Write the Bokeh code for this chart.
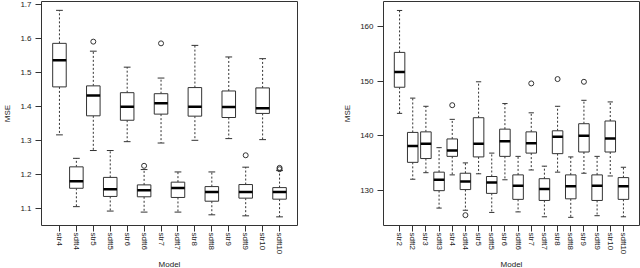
from bokeh.plotting import figure
from bokeh.layouts import row
from bokeh.models import Range1d, FixedTicker, PrintfTickFormatter, Title
from bokeh.embed import file_html
from bokeh.resources import INLINE

# ---------------- data ----------------
left_models = ["str4", "sdft4", "str5", "sdft5", "str6", "sdft6", "str7", "sdft7",
               "str8", "sdft8", "str9", "sdft9", "str10", "sdft10"]
left_lower = [1.317, 1.106, 1.271, 1.093, 1.297, 1.090, 1.293, 1.090, 1.301, 1.082, 1.306, 1.079, 1.303, 1.076]
left_q1 = [1.458, 1.160, 1.373, 1.136, 1.360, 1.135, 1.378, 1.133, 1.372, 1.122, 1.368, 1.131, 1.380, 1.128]
left_median = [1.536, 1.181, 1.433, 1.157, 1.400, 1.154, 1.410, 1.161, 1.400, 1.149, 1.399, 1.149, 1.395, 1.149]
left_q3 = [1.586, 1.223, 1.461, 1.192, 1.441, 1.170, 1.438, 1.178, 1.456, 1.165, 1.446, 1.171, 1.455, 1.162]
left_upper = [1.683, 1.248, 1.563, 1.271, 1.516, 1.215, 1.484, 1.208, 1.580, 1.208, 1.546, 1.222, 1.541, 1.212]
left_out_model = ["str5", "sdft6", "str7", "sdft9", "sdft10", "sdft10"]
left_out_value = [1.591, 1.226, 1.586, 1.257, 1.220, 1.216]
left_yticks = [1.1, 1.2, 1.3, 1.4, 1.5, 1.6, 1.7]

right_models = ["str2", "sdft2", "str3", "sdft3", "str4", "sdft4", "str5", "sdft5", "str6", "sdft6",
                "str7", "sdft7", "str8", "sdft8", "str9", "sdft9", "str10", "sdft10"]
right_lower = [144.1, 132.0, 133.2, 126.7, 132.8, 126.3, 133.0, 125.9, 131.9, 126.0,
               133.7, 125.1, 133.3, 125.0, 133.1, 125.3, 132.6, 125.1]
right_q1 = [148.9, 135.1, 135.8, 129.9, 136.2, 130.1, 136.1, 129.4, 136.2, 128.3,
            136.8, 128.1, 136.7, 128.4, 137.0, 128.1, 137.0, 128.3]
right_median = [151.7, 138.1, 138.5, 131.9, 137.3, 131.6, 138.5, 131.4, 139.0, 130.8,
                138.6, 130.2, 139.8, 130.7, 140.0, 130.8, 139.5, 130.7]
right_q3 = [155.3, 140.6, 140.7, 133.3, 139.4, 133.1, 143.3, 132.5, 141.2, 132.8,
            140.7, 132.1, 140.9, 132.8, 142.2, 132.8, 142.7, 132.3]
right_upper = [163.0, 146.9, 145.4, 137.8, 143.0, 135.0, 149.9, 136.8, 145.9, 136.2,
               144.2, 134.4, 145.4, 136.1, 146.5, 136.2, 146.2, 134.2]
right_out_model = ["str4", "sdft4", "str7", "str8", "str9"]
right_out_value = [145.6, 125.4, 149.6, 150.4, 149.9]
right_yticks = [130, 140, 150, 160]

FONT = "Liberation Sans"
INK = "#222222"
LINE = "#333333"


def boxplot(models, lower, q1, med, q3, upper, out_model, out_value,
            yrange, yticks, yfmt, width, border_left, border_right):
    n = len(models)
    pad = 0.04 * n
    p = figure(width=width, height=268, output_backend="svg", toolbar_location=None,
               x_range=Range1d(0.5 - pad, n + 0.5 + pad), y_range=Range1d(*yrange),
               min_border_left=border_left, min_border_right=border_right,
               min_border_top=1, min_border_bottom=0)
    p.background_fill_color = "white"
    p.border_fill_color = "white"
    p.outline_line_color = LINE
    p.outline_line_width = 1
    p.grid.visible = False

    xs = list(range(1, n + 1))
    bw = 0.8
    # whiskers
    p.segment(x0=xs, y0=q3, x1=xs, y1=upper, line_color=LINE, line_width=1, line_dash="2 2")
    p.segment(x0=xs, y0=q1, x1=xs, y1=lower, line_color=LINE, line_width=1, line_dash="2 2")
    # caps
    p.segment(x0=[x - bw / 4 for x in xs], y0=upper, x1=[x + bw / 4 for x in xs], y1=upper,
              line_color=LINE, line_width=1)
    p.segment(x0=[x - bw / 4 for x in xs], y0=lower, x1=[x + bw / 4 for x in xs], y1=lower,
              line_color=LINE, line_width=1)
    # boxes
    p.vbar(x=xs, width=bw, bottom=q1, top=q3, fill_color="white", line_color=LINE, line_width=1)
    # medians
    p.segment(x0=[x - bw / 2 for x in xs], y0=med, x1=[x + bw / 2 for x in xs], y1=med,
              line_color="black", line_width=2.5)
    # outliers
    ox = [models.index(m) + 1 for m in out_model]
    p.scatter(x=ox, y=out_value, marker="circle", size=5, fill_color=None,
              line_color=LINE, line_width=1)

    xa = p.xaxis[0]
    xa.ticker = FixedTicker(ticks=xs)
    xa.major_label_overrides = {i + 1: m for i, m in enumerate(models)}
    xa.major_label_orientation = "vertical"

    ya = p.yaxis[0]
    ya.ticker = FixedTicker(ticks=yticks)
    ya.formatter = PrintfTickFormatter(format=yfmt)
    ya.axis_label = "MSE"
    ya.axis_label_standoff = 5

    for ax in (xa, ya):
        ax.axis_line_color = None
        ax.major_tick_line_color = LINE
        ax.major_tick_out = 6
        ax.major_tick_in = 0
        ax.minor_tick_line_color = None
        ax.major_label_text_font = FONT
        ax.major_label_text_font_size = "8px"
        ax.major_label_text_color = INK
        ax.axis_label_text_font = FONT
        ax.axis_label_text_font_size = "8px"
        ax.axis_label_text_font_style = "normal"
        ax.axis_label_text_color = INK
    xa.major_label_standoff = 1
    ya.major_label_standoff = 4

    p.add_layout(Title(text="Model", align="center", standoff=0,
                       text_font=FONT, text_font_size="8px", text_font_style="normal",
                       text_color=INK), "below")
    return p


left = boxplot(left_models, left_lower, left_q1, left_median, left_q3, left_upper,
               left_out_model, left_out_value, (1.0506, 1.709), left_yticks, "%.1f",
               340, 38, 43)
right = boxplot(right_models, right_lower, right_q1, right_median, right_q3, right_upper,
                right_out_model, right_out_value, (123.5, 164.65), right_yticks, "%d",
                300, 42, 1)

layout = row(left, right)
open("out.html", "w").write(file_html(layout, INLINE))
